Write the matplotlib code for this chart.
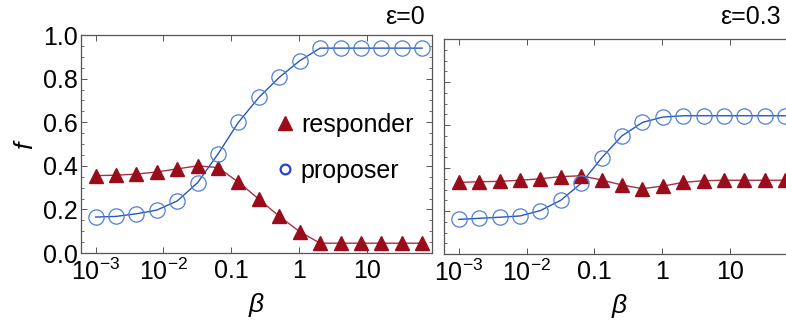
import numpy as np
import matplotlib
matplotlib.use('Agg')
import matplotlib.pyplot as plt
from matplotlib.ticker import FixedLocator, LogLocator, NullFormatter, MultipleLocator

plt.rcParams['font.family'] = ['Liberation Sans', 'DejaVu Sans']
plt.rcParams['mathtext.fontset'] = 'custom'
plt.rcParams['mathtext.rm'] = 'Liberation Sans'
plt.rcParams['mathtext.it'] = 'Liberation Sans:italic'

# beta values: 1e-3 doubled 16 times
beta = [0.001, 0.002, 0.004, 0.008, 0.016, 0.032, 0.064, 0.128, 0.256, 0.512,
        1.024, 2.048, 4.096, 8.192, 16.384, 32.768, 65.536]

# eps = 0
resp_e0 = [0.355, 0.357, 0.362, 0.372, 0.386, 0.400, 0.392, 0.325, 0.247, 0.168,
           0.098, 0.045, 0.045, 0.045, 0.045, 0.045, 0.045]
prop_e0 = [0.165, 0.168, 0.180, 0.197, 0.239, 0.323, 0.455, 0.600, 0.714, 0.806,
           0.882, 0.940, 0.940, 0.940, 0.940, 0.940, 0.940]

# eps = 0.3
resp_e3 = [0.333, 0.336, 0.338, 0.343, 0.350, 0.360, 0.364, 0.344, 0.321, 0.304,
           0.316, 0.333, 0.341, 0.343, 0.343, 0.343, 0.343]
prop_e3 = [0.161, 0.166, 0.171, 0.177, 0.202, 0.250, 0.329, 0.447, 0.550, 0.612,
           0.637, 0.643, 0.643, 0.643, 0.643, 0.643, 0.643]

xticks = [1e-3, 1e-2, 0.1, 1, 10]
xticklabels = [r'$10^{-3}$', r'$10^{-2}$', '0.1', '1', '10']
yticks = [0.0, 0.2, 0.4, 0.6, 0.8, 1.0]

red_m = '#9a0c1c'
red_l = '#a8323f'
blue_m = '#4f7fd6'
blue_l = '#2656bf'

fig = plt.figure(figsize=(7.86, 3.21), dpi=100)
ax1 = fig.add_axes([0.103, 0.2118, 0.4466, 0.679])
ax2 = fig.add_axes([0.565, 0.2087, 0.4466, 0.6698])

def style(ax, show_ylabels):
    ax.set_xscale('log')
    ax.set_xlim(6.07e-4, 91.6)
    ax.set_ylim(0, 1)
    ax.xaxis.set_major_locator(FixedLocator(xticks))
    ax.set_xticklabels(xticklabels)
    ax.xaxis.set_minor_locator(LogLocator(base=10, subs=np.arange(2, 10)))
    ax.xaxis.set_minor_formatter(NullFormatter())
    ax.yaxis.set_major_locator(FixedLocator(yticks))
    ax.yaxis.set_minor_locator(MultipleLocator(0.05))
    if show_ylabels:
        ax.set_yticklabels(['0.0', '0.2', '0.4', '0.6', '0.8', '1.0'])
    else:
        ax.set_yticklabels([])
    ax.tick_params(which='both', direction='in', top=True, right=True,
                   colors='#555555', labelcolor='black', labelsize=18)
    ax.tick_params(which='major', length=4, width=0.7, pad=2)
    ax.tick_params(which='minor', length=2, width=0.6)
    ax.tick_params(axis='x', which='major', pad=4)
    for s in ax.spines.values():
        s.set_color('#555555')
        s.set_linewidth(0.9)
    ax.set_xlabel(r'$\it{\beta}$', fontsize=19, labelpad=4)

def draw(ax, resp, prop):
    ax.plot(beta, resp, '-', color=red_l, lw=1.0, zorder=2)
    ax.plot(beta, resp, '^', color=red_m, ms=10, mec=red_m, ls='none', zorder=3,
            clip_on=False)
    ax.plot(beta, prop, '-', color=blue_l, lw=1.0, zorder=2)
    ax.plot(beta, prop, 'o', mfc='none', mec=blue_m, mew=0.9, ms=11, ls='none',
            zorder=3, clip_on=False)

style(ax1, True)
style(ax2, False)
draw(ax1, resp_e0, prop_e0)
draw(ax2, resp_e3, prop_e3)

ax1.set_ylabel(r'$\it{f}$', fontsize=19, labelpad=4)

h1, = ax1.plot([], [], '^', color=red_m, ms=10)
h2, = ax1.plot([], [], 'o', mfc='none', mec='#2a3fd6', mew=1.6, ms=7)
ax1.legend([h1, h2], ['responder', 'proposer'], loc='upper left',
           bbox_to_anchor=(0.53, 0.69), frameon=False, fontsize=18,
           handlelength=0.6, handletextpad=0.35, labelspacing=0.9,
           borderaxespad=0)

fig.text(0.541, 0.947, 'ε=0', ha='right', va='center', fontsize=18)
fig.text(0.993, 0.947, 'ε=0.3', ha='right', va='center', fontsize=18)

fig.savefig('out.png', dpi=100)
